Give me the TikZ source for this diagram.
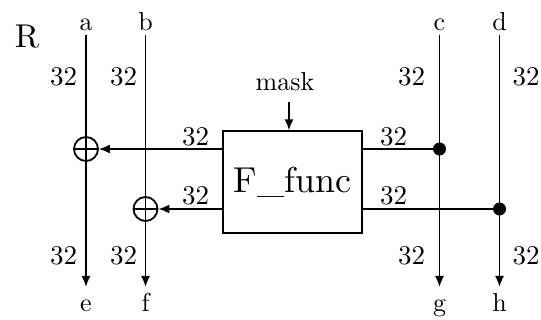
\documentclass[tikz,border=0pt]{standalone}
\usepackage{graphicx}
\usetikzlibrary{arrows.meta}
\newcommand{\szt}[2]{\scalebox{#1}{#2}}
\begin{document}
\begin{tikzpicture}[x=0.5pt,y=-0.5pt,
  wire/.style={line width=0.9pt},
  arr/.style={wire,-{Latex[length=5.5pt,width=4.5pt]}},
  xorc/.style={circle,draw,line width=0.9pt,minimum size=12pt,inner sep=0pt},
  dotc/.style={circle,fill,minimum size=6.5pt,inner sep=0pt},
  fbox/.style={draw,line width=0.9pt,minimum width=69.5pt,minimum height=50.75pt,inner sep=0pt,font=\fontsize{10}{12}\selectfont},
  num/.style={anchor=base,inner sep=0pt,font=\fontsize{10}{12}\selectfont},
  lett/.style={anchor=base,inner sep=0pt,font=\fontsize{10}{12}\selectfont}]
\useasboundingbox (0,0) rectangle (541,320);

% title
\node[lett] (R) at (27,48) {\szt{1.65}{R}};

% endpoints
\coordinate (at) at (86,35);    \coordinate (eb) at (86,287);
\coordinate (bt) at (145.5,35); \coordinate (fb) at (145.5,287);
\coordinate (ct) at (439.5,35); \coordinate (gb) at (439.5,287);
\coordinate (dt) at (499.5,35); \coordinate (hb) at (499.5,287);

\node[lett] (la) at (86,31) {\szt{1.3}{a}};
\node[lett] (lb) at (145.5,31) {\szt{1.3}{b}};
\node[lett] (lc) at (439.5,31) {\szt{1.3}{c}};
\node[lett] (ld) at (499.5,31) {\szt{1.3}{d}};
\node[lett] (le) at (86,312) {\szt{1.3}{e}};
\node[lett] (lf) at (145.5,312) {\szt{1.3}{f}};
\node[lett] (lg) at (439.5,312) {\szt{1.3}{g}};
\node[lett] (lh) at (499.5,312) {\szt{1.3}{h}};

% F box
\node[fbox] (F) at (292.5,182) {\szt{1.8}{F\_func}};

% mask
\node[lett] (mask) at (285,91) {\szt{1.3}{mask}};
\coordinate (mtop) at (289,102);
\draw[arr] (mtop) -- (mtop |- F.north);

% xor nodes and dots
\node[xorc] (x1) at (86,149) {};
\node[xorc] (x2) at (145.5,209) {};
\node[dotc] (d1) at (439.5,149) {};
\node[dotc] (d2) at (499.5,209) {};

% vertical wires
\draw[arr] (at) -- (eb);
\draw[arr] (bt) -- (fb);
\draw[arr] (ct) -- (gb);
\draw[arr] (dt) -- (hb);

% xor crossbars
\draw[wire] (x1.west) -- (x1.east);
\draw[wire] (x2.west) -- (x2.east);

% horizontal wires
\draw[arr] (F.west |- x1) -- (x1.east);
\draw[arr] (F.west |- x2) -- (x2.east);
\draw[wire] (F.east |- d1) -- (d1);
\draw[wire] (F.east |- d2) -- (d2);

% widths
\node[num] (n1) at (63.5,86) {\szt{1.35}{32}};
\node[num] (n2) at (123.5,86) {\szt{1.35}{32}};
\node[num] (n3) at (411.7,86) {\szt{1.35}{32}};
\node[num] (n4) at (526,86) {\szt{1.35}{32}};
\node[num] (n5) at (63.5,265) {\szt{1.35}{32}};
\node[num] (n6) at (123.5,265) {\szt{1.35}{32}};
\node[num] (n7) at (411.7,265) {\szt{1.35}{32}};
\node[num] (n8) at (526,265) {\szt{1.35}{32}};
\node[num] (n9) at (195.5,146) {\szt{1.35}{32}};
\node[num] (n10) at (195.5,205) {\szt{1.35}{32}};
\node[num] (n11) at (393.5,146) {\szt{1.35}{32}};
\node[num] (n12) at (393.5,205) {\szt{1.35}{32}};
\end{tikzpicture}
\end{document}
